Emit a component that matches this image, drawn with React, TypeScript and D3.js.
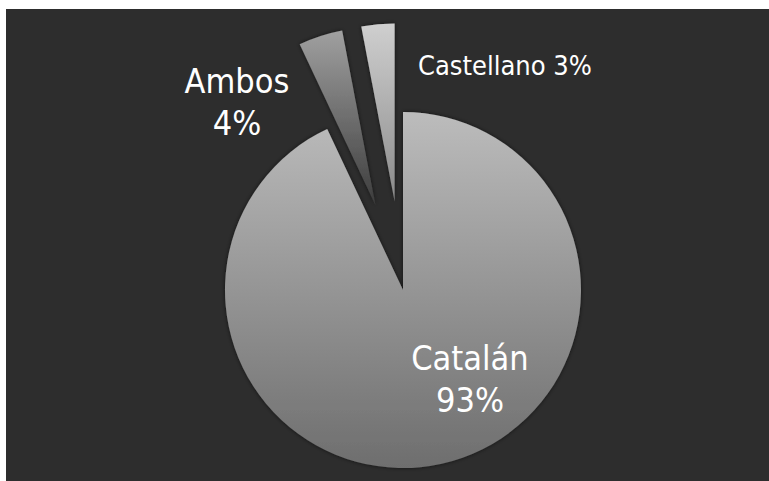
import React from "react";
import * as d3 from "d3";

const categories = ["Catalán", "Ambos", "Castellano"];
const values = [93, 4, 3];
const labelLines = [["Catalán", "93%"], ["Ambos", "4%"], ["Castellano 3%"]];

const W = 769;
const H = 481;

export default function App() {
  const cx = 403;
  const cy = 290;
  const r = 178;
  const explode = [0, 89, 89];
  const pie = d3.pie<number>().sort(null).startAngle(0).endAngle(2 * Math.PI);
  const arcs = pie(values);
  const arcGen = d3.arc<d3.PieArcDatum<number>>().innerRadius(0).outerRadius(r);
  const grads = [
    ["#bcbcbc", "#6e6e6e"],
    ["#a0a0a0", "#3c3c3c"],
    ["#cfcfcf", "#8a8a8a"],
  ];
  const labelPos = [
    { x: 470, y: 370, anchor: "middle", size: 34 },
    { x: 237, y: 93, anchor: "middle", size: 34 },
    { x: 418, y: 75, anchor: "start", size: 27 },
  ];
  return (
    <svg width={W} height={H} style={{ position: "absolute", left: 0, top: 0 }}>
      <defs>
        {grads.map((g, i) => (
          <linearGradient key={i} id={`g${i}`} x1="0" y1="0" x2="0" y2="1">
            <stop offset="0" stopColor={g[0]} />
            <stop offset="1" stopColor={g[1]} />
          </linearGradient>
        ))}
        <filter id="sh" x="-20%" y="-20%" width="140%" height="140%">
          <feDropShadow dx="0" dy="0" stdDeviation="2" floodColor="#000" floodOpacity="0.6" />
        </filter>
      </defs>
      <rect x={0} y={0} width={W} height={H} fill="#ffffff" />
      <rect x={6} y={9} width={W - 6} height={H - 9} fill="#2d2d2d" />
      {arcs.map((a, i) => {
        const mid = (a.startAngle + a.endAngle) / 2;
        const dx = Math.sin(mid) * explode[i];
        const dy = -Math.cos(mid) * explode[i];
        return (
          <path
            key={categories[i]}
            d={arcGen(a) || ""}
            transform={`translate(${cx + dx},${cy + dy})`}
            fill={`url(#g${i})`}
            filter="url(#sh)"
          />
        );
      })}
      {labelLines.map((lines, i) => (
        <text
          key={i}
          x={labelPos[i].x}
          y={labelPos[i].y}
          textAnchor={labelPos[i].anchor}
          fill="#ffffff"
          fontFamily="'DejaVu Sans Condensed', 'DejaVu Sans', sans-serif"
          fontStretch="condensed"
          fontSize={labelPos[i].size}
        >
          {lines.map((l, j) => (
            <tspan key={j} x={labelPos[i].x} dy={j === 0 ? 0 : labelPos[i].size * 1.24}>
              {l}
            </tspan>
          ))}
        </text>
      ))}
    </svg>
  );
}
